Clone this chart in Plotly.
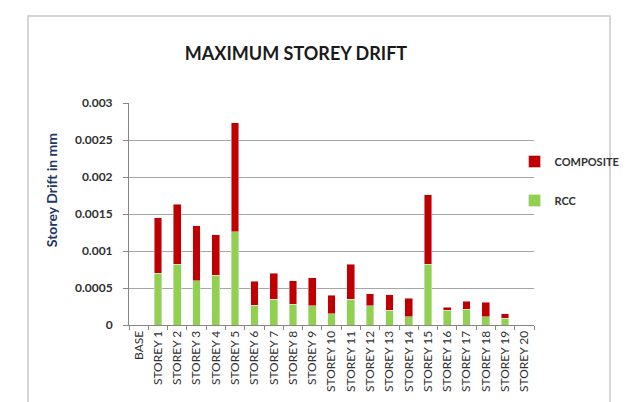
import plotly.graph_objects as go

categories = ["BASE"] + [f"STOREY {i}" for i in range(1, 21)]
rcc = [0, 0.00070, 0.00082, 0.00060, 0.00067, 0.00126, 0.00027, 0.00035, 0.00028, 0.00026,
       0.00015, 0.00035, 0.00026, 0.00020, 0.00011, 0.00082, 0.00020, 0.00021, 0.00011, 0.00009, 0]
composite = [0, 0.00075, 0.00081, 0.00074, 0.00055, 0.00147, 0.00032, 0.00035, 0.00032, 0.00038,
             0.00025, 0.00047, 0.00016, 0.00021, 0.00025, 0.00094, 0.00004, 0.00011, 0.00020, 0.00006, 0]
y_ticks = [0, 0.0005, 0.001, 0.0015, 0.002, 0.0025, 0.003]

fig = go.Figure()
fig.add_trace(go.Bar(x=categories, y=rcc, name="RCC", marker_color="#92D050",
                     legendgroup="rcc", legendrank=2))
fig.add_trace(go.Bar(x=categories, y=composite, name="COMPOSITE", marker_color="#C00000",
                     legendgroup="comp", legendrank=1))

W, H = 629, 402
L, R, T, B = 121, 558, 95, 317
pw, ph = R - L, B - T

def px_x(x):
    return (x - L) / pw

def px_y(y):
    return (B - y) / ph

fig.update_layout(
    width=W, height=H,
    margin=dict(l=L, r=W - R, t=T, b=H - B),
    barmode="stack", bargap=0.6,
    paper_bgcolor="white", plot_bgcolor="white",
    font=dict(family="Lato, Calibri, sans-serif", color="#404040"),
    title=dict(text="MAXIMUM STOREY DRIFT", x=288 / W, xanchor="center",
               y=1 - 46 / H, yanchor="middle",
               font=dict(size=18, color="#1a1a1a", family="Lato", weight="bold")),
    legend=dict(traceorder="grouped", tracegroupgap=20,
                x=px_x(537), xanchor="left", y=px_y(139), yanchor="top",
                bgcolor="rgba(0,0,0,0)",
                font=dict(size=11, color="#303030", weight="bold")),
    xaxis=dict(type="category", tickangle=-90, tickson="boundaries",
               ticks="outside", ticklen=4, tickcolor="#868686",
               showline=True, linecolor="#868686", linewidth=1,
               tickfont=dict(size=12, color="#303030"),
               showgrid=False),
    yaxis=dict(range=[0, 0.003], tickvals=y_ticks, tickformat=".4~f",
               ticks="outside", ticklen=5, tickcolor="#868686",
               ticklabelstandoff=8,
               showline=True, linecolor="#868686", linewidth=1,
               gridcolor="#A6A6A6", gridwidth=1, zeroline=False,
               tickfont=dict(size=12, color="#303030", weight="bold")),
    annotations=[dict(text="Storey Drift in mm", textangle=-90, xref="paper", yref="paper",
                      x=px_x(37), y=px_y(182), showarrow=False, xanchor="center", yanchor="middle",
                      font=dict(size=14, color="#1F3864", weight="bold"))],
    shapes=[dict(type="rect", xref="paper", yref="paper",
                 x0=px_x(12), x1=px_x(640), y0=px_y(397), y1=px_y(8),
                 line=dict(color="#C8C8C8", width=1.5), layer="below")],
)

fig.write_html("out.html")
